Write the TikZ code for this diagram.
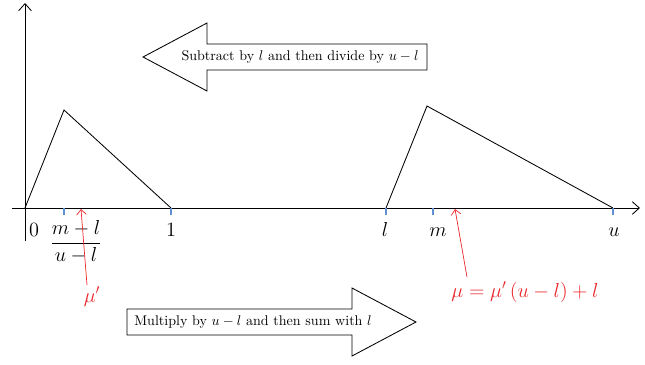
\documentclass[tikz,border=0pt]{standalone}
\usepackage{amsmath,amssymb}
\usetikzlibrary{arrows.meta,positioning}
\definecolor{tickblue}{RGB}{95,145,210}
\definecolor{labred}{RGB}{235,40,45}

\begin{document}
\begin{tikzpicture}[
  x=0.025cm, y=-0.025cm,
  axis/.style={line width=0.6pt, -{Straight Barb[length=1.8mm, width=3.2mm]}},
  curve/.style={line width=0.6pt},
  tick/.style={draw=tickblue, line width=0.8pt},
  lab/.style={font=\Large, inner sep=1pt, anchor=base},
  redlab/.style={text=labred, font=\Large, inner sep=1pt, anchor=base},
  redarrow/.style={draw=labred, line width=0.5pt, -{Straight Barb[length=1.3mm, width=2.4mm]}},
  bigarrow/.style={draw, line width=0.6pt, fill=white},
  note/.style={font=\normalsize, inner sep=0pt}
]
\useasboundingbox (0,0) rectangle (645,364);
% axes
\coordinate (orig) at (25,208);
\coordinate (xstart) at (12,208);
\coordinate (xend) at (640,208);
\coordinate (ystart) at (25,241);
\coordinate (yend) at (25,3);
\draw[axis] (xstart) -- (xend);
\draw[axis] (ystart) -- (yend);
% ticks
\foreach \x in {64,171,386,433,613}
  \draw[tick] (\x,208) -- (\x,215);
% triangles
\draw[curve] (orig) -- (64,110) -- (171,208);
\draw[curve] (386,208) -- (427,106) -- (613,208);
% axis labels
\node[lab] (lab0) at (34,236) {$0$};
\node[lab] (labfrac) at (76,248) {$\dfrac{m-l}{u-l}$};
\node[lab] (lab1) at (171,236) {$1$};
\node[lab] (labl) at (385,236) {$l$};
\node[lab] (labm) at (438,236) {$m$};
\node[lab] (labu) at (614,236) {$u$};
% red labels
\node[redlab] (mup) at (92,302) {$\mu'$};
\node[redlab] (mu) at (525,297) {$\mu = \mu'\,(u-l)+l$};
\coordinate (mupfoot) at (87,285);
\coordinate (mupaxis) at (81,209);
\coordinate (mufoot) at (467,277);
\coordinate (muaxis) at (455,209);
\draw[redarrow] (mupfoot) -- (mupaxis);
\draw[redarrow] (mufoot) -- (muaxis);
% big arrows
\draw[bigarrow] (143,57) -- (207,23) -- (207,44) -- (427,44) -- (427,70)
  -- (207,70) -- (207,91) -- cycle;
\node[note] (subtract) at (300,57) {Subtract by $l$ and then divide by $u-l$};
\draw[bigarrow] (127,309) -- (352,309) -- (352,288) -- (416,322) -- (352,356)
  -- (352,335) -- (127,335) -- cycle;
\node[note] (multiply) at (253,322) {Multiply by $u-l$ and then sum with $l$};
\end{tikzpicture}
\end{document}
